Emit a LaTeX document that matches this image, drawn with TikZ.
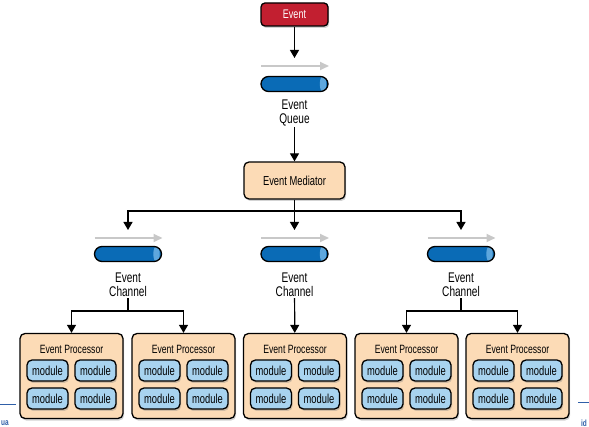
\documentclass[tikz,border=0pt]{standalone}
\usepackage{fontspec}
\setmainfont{Liberation Sans}[FakeStretch=0.72]
\usetikzlibrary{arrows.meta,shadows}
\definecolor{evred}{HTML}{C21F30}
\definecolor{qblue}{HTML}{0A6BB6}
\definecolor{qcap}{HTML}{5EA7DD}
\definecolor{peach}{HTML}{FCDBB6}
\definecolor{modblue}{HTML}{A8D3EF}
\definecolor{flowgray}{HTML}{C8C8C8}
\definecolor{pageblue}{HTML}{2F5FA8}
\begin{document}
\begin{tikzpicture}[x=1pt,y=-1pt,
  shad/.style={drop shadow={opacity=0.35,shadow xshift=1.2pt,shadow yshift=-2pt}},
  evbox/.style={draw=black,line width=1.3pt,fill=evred,rounded corners=4pt,minimum width=67pt,minimum height=23pt,inner sep=0pt,text=white,font=\fontsize{12.5}{14}\selectfont,shad},
  medbox/.style={draw=black,line width=1.3pt,fill=peach,rounded corners=5pt,minimum width=101pt,minimum height=37pt,inner sep=0pt,font=\fontsize{13}{15}\selectfont,shad},
  procbox/.style={draw=black,line width=1.3pt,fill=peach,rounded corners=5pt,minimum width=103pt,minimum height=85pt,inner sep=0pt,shad},
  proctitle/.style={inner sep=0pt,font=\fontsize{12}{14}\selectfont},
  modbox/.style={draw=black,line width=1.3pt,fill=modblue,rounded corners=5pt,minimum width=41pt,minimum height=21pt,inner sep=0pt,font=\fontsize{13}{15}\selectfont,shad},
  cyl/.style={draw=black,line width=1.3pt,fill=qblue,rounded corners=7.5pt,minimum width=67pt,minimum height=15pt,inner sep=0pt,
    path picture={\fill[qcap] ([xshift=-5pt]path picture bounding box.east) ellipse (3.2pt and 8pt);}},
  lbl/.style={align=center,inner sep=1pt,font=\fontsize{14}{14}\selectfont},
  arr/.style={line width=1.2pt,-{Triangle[width=9pt,length=8pt]}},
  ln/.style={line width=1.2pt},
  flow/.style={line width=2pt,flowgray,-{Triangle[width=8pt,length=9pt]}},
  frag/.style={inner sep=0pt,text=pageblue,font=\bfseries\fontsize{9}{9}\selectfont}
]
\useasboundingbox (0,0) rectangle (589,427);

% Event and queue
\node[evbox] (ev) at (294.5,14.5) {Event};
\coordinate (qin) at (294.5,58);
\draw[arr] (ev) -- (qin);
\coordinate (qa1) at (261,66); \coordinate (qa2) at (329,66);
\draw[flow] (qa1) -- (qa2);
\node[cyl] (q) at (294.5,84) {};
\node[lbl] (ql) at (294.5,113) {Event\\Queue};

% Mediator
\node[medbox] (med) at (294.5,180.5) {Event Mediator};
\draw[arr] (ql) -- (med);
\coordinate (mj) at (294.5,211);
\draw[ln] (med) -- (mj);

% Channels
\foreach \i/\x in {1/128,2/294.5,3/461}{
  \coordinate (cin\i) at (\x,230);
  \coordinate (ca\i) at (\x-33.5,238);
  \coordinate (cb\i) at (\x+34.5,238);
  \draw[flow] (ca\i) -- (cb\i);
  \node[cyl] (c\i) at (\x,254) {};
  \node[lbl] (cl\i) at (\x,285) {Event\\Channel};
}
\draw[arr] (mj) -| (cin1);
\draw[arr] (mj) -- (cin2);
\draw[arr] (mj) -| (cin3);

% Processors
\foreach \i/\x in {1/71.5,2/183.5,3/295,4/406.5,5/517.5}{
  \node[procbox] (ep\i) at (\x,376) {};
  \node[proctitle] (ept\i) at (\x,349) {Event Processor};
  \node[modbox] (m\i a) at (\x-24,370.5) {module};
  \node[modbox] (m\i b) at (\x+24,370.5) {module};
  \node[modbox] (m\i c) at (\x-24,398.5) {module};
  \node[modbox] (m\i d) at (\x+24,398.5) {module};
}
\coordinate (j1) at (128,311);
\coordinate (j3) at (461,311);
\draw[ln] (cl1) -- (j1);
\draw[arr] (j1) -| (ep1);
\draw[arr] (j1) -| (ep2);
\draw[arr] (cl2) -- (ep3);
\draw[ln] (cl3) -- (j3);
\draw[arr] (j3) -| (ep4);
\draw[arr] (j3) -| (ep5);

% page fragments at the edges
\coordinate (pl1) at (0,405); \coordinate (pl2) at (16,405);
\draw[pageblue,line width=1pt] (pl1) -- (pl2);
\coordinate (pr1) at (578,403); \coordinate (pr2) at (589,403);
\draw[pageblue,line width=1pt] (pr1) -- (pr2);
\node[frag,anchor=west] (fl) at (1,423) {ua};
\node[frag,anchor=east] (fr) at (587,423) {id};
\end{tikzpicture}
\end{document}
